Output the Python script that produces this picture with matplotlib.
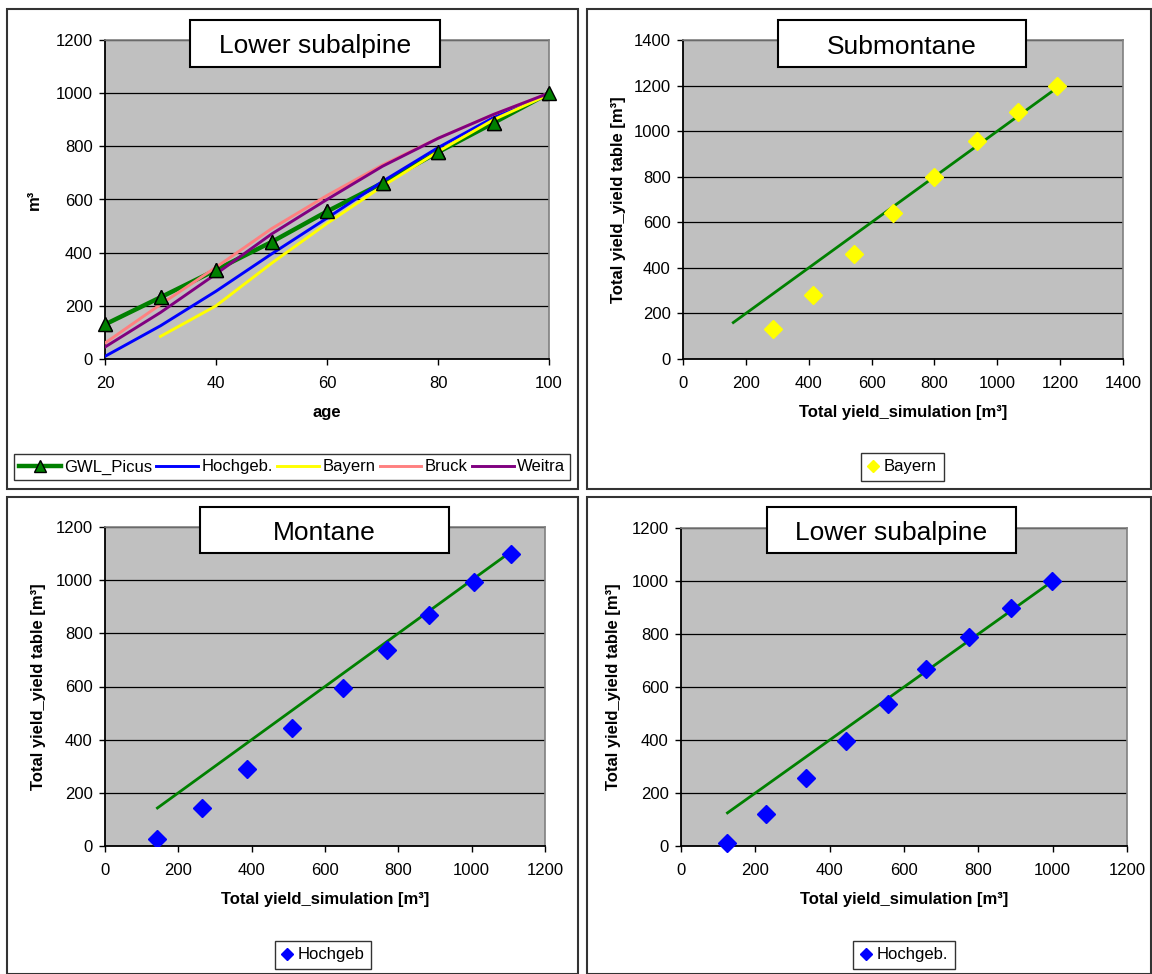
import matplotlib.pyplot as plt
import numpy as np
from matplotlib.patches import Rectangle

plt.rcParams['font.family'] = ['Liberation Sans', 'DejaVu Sans']

W, H = 1152, 974

# top left: yield over age
ages = [20, 30, 40, 50, 60, 70, 80, 90, 100]
gwl_picus = [130, 232, 335, 440, 555, 662, 778, 888, 1000]
hochgeb = [10, 125, 255, 395, 530, 668, 795, 908, 1000]
bayern = [np.nan, 85, 200, 360, 510, 650, 780, 900, 995]
bruck = [60, 205, 345, 490, 615, 730, 830, 920, 1000]
weitra = [45, 175, 320, 470, 600, 725, 830, 920, 1000]

# submontane: simulation vs yield table (Bayern)
sub_sim = [160, 287, 413, 543, 667, 800, 935, 1067, 1190]
sub_table = [np.nan, 130, 283, 460, 640, 800, 955, 1083, 1200]

# montane: simulation vs yield table (Hochgeb)
mon_sim = [143, 265, 388, 510, 648, 768, 883, 1005, 1108]
mon_table = [28, 143, 288, 445, 595, 738, 870, 993, 1100]

# lower subalpine: simulation vs yield table (Hochgeb.)
lsa_sim = [125, 230, 335, 443, 557, 660, 775, 888, 998]
lsa_table = [12, 122, 258, 395, 535, 668, 790, 900, 1000]

GREEN = '#008000'
FS = 12


def px_rect(l, t, r, b):
    # pixel box -> figure fraction [left, bottom, width, height]
    return [l / W, 1 - b / H, (r - l) / W, (b - t) / H]


def style_axes(ax, xlim, xticks, ylim, yticks):
    ax.set_facecolor('#c0c0c0')
    ax.set_xlim(xlim)
    ax.set_ylim(ylim)
    ax.set_xticks(xticks)
    ax.set_yticks(yticks)
    ax.grid(axis='y', color='black', lw=0.9)
    ax.set_axisbelow(True)
    for s in ['top', 'right']:
        ax.spines[s].set_color('#808080')
        ax.spines[s].set_linewidth(1.2)
    for s in ['left', 'bottom']:
        ax.spines[s].set_color('black')
        ax.spines[s].set_linewidth(1.3)
    ax.tick_params(axis='x', direction='out', length=4, width=1, labelsize=FS, pad=8)
    ax.tick_params(axis='y', direction='out', length=4, width=1, labelsize=FS, pad=5)


def title_box(l, t, r, b, text):
    fig.patches.append(Rectangle((l / W, 1 - b / H), (r - l) / W, (b - t) / H,
                                 transform=fig.transFigure, facecolor='white',
                                 edgecolor='black', lw=1.5, zorder=5))
    fig.text((l + r) / 2 / W, 1 - ((t + b) / 2 + 3) / H, text, ha='center', va='center',
             fontsize=19, zorder=6)


def labels(ax, xlabel, ylabel, yx):
    ax.set_xlabel(xlabel, fontsize=FS, fontweight='bold')
    ax.set_ylabel(ylabel, fontsize=FS, fontweight='bold')
    ax.xaxis.set_label_coords(0.5, -0.145)
    ax.yaxis.set_label_coords(yx, 0.5)


def small_legend(ax, cx, cy):
    leg = ax.legend(loc='center', bbox_to_anchor=(cx / W, 1 - cy / H),
                    bbox_transform=fig.transFigure, fontsize=FS, frameon=True, fancybox=False,
                    edgecolor='black', handlelength=0.7, handletextpad=0.3, numpoints=1,
                    markerscale=0.65, borderpad=0.4)
    leg.get_frame().set_linewidth(1)


fig = plt.figure(figsize=(W / 100, H / 100), dpi=100)

# panel frames
for l, t, r, b in [(7, 9, 578, 489), (587, 9, 1151, 489), (7, 497, 578, 974), (587, 497, 1151, 974)]:
    fig.patches.append(Rectangle((l / W, 1 - b / H), (r - l) / W, (b - t) / H,
                                 transform=fig.transFigure, facecolor='none',
                                 edgecolor='#333333', lw=1.5))

# --- top left ---
ax1 = fig.add_axes(px_rect(105, 40, 549, 359))
style_axes(ax1, (20, 100), [20, 40, 60, 80, 100], (0, 1200), range(0, 1201, 200))
ax1.plot(ages, gwl_picus, color=GREEN, lw=3.2, marker='^', ms=10, mfc=GREEN, mec='black',
         mew=1, label='GWL_Picus', zorder=2)
ax1.plot(ages, hochgeb, color='#0000ff', lw=2.1, label='Hochgeb.', zorder=3)
ax1.plot(ages, bayern, color='#ffff00', lw=2.1, label='Bayern', zorder=3)
ax1.plot(ages, bruck, color='#ff8080', lw=2.1, label='Bruck', zorder=3)
ax1.plot(ages, weitra, color='#800080', lw=2.1, label='Weitra', zorder=3)
ax1.plot(ages, gwl_picus, ls='none', marker='^', ms=10, mfc=GREEN, mec='black', mew=1,
         zorder=4, clip_on=False)
ax1.set_xlabel('age', fontsize=FS, fontweight='bold')
ax1.set_ylabel('m³', fontsize=FS, fontweight='bold')
ax1.xaxis.set_label_coords(0.5, -0.145)
ax1.yaxis.set_label_coords(-0.142, 0.5)
leg = ax1.legend(loc='center', bbox_to_anchor=(14 / W, 1 - 483 / H, 556 / W, 32 / H),
                 bbox_transform=fig.transFigure, mode='expand', ncol=5, fontsize=FS,
                 frameon=True, fancybox=False, edgecolor='black', handlelength=2.5,
                 handletextpad=0.2, columnspacing=0.5, numpoints=1, borderaxespad=0,
                 borderpad=0.3, markerscale=0.8)
leg.get_frame().set_linewidth(1)
title_box(190, 20, 440, 67, 'Lower subalpine')

xl = 'Total yield_simulation [m³]'
yl = 'Total yield_yield table [m³]'

# --- top right ---
ax2 = fig.add_axes(px_rect(683, 40, 1123, 359))
style_axes(ax2, (0, 1400), range(0, 1401, 200), (0, 1400), range(0, 1401, 200))
ax2.plot(sub_sim, sub_sim, color=GREEN, lw=2, zorder=2)
ax2.plot(sub_sim, sub_table, ls='none', marker='D', ms=9.5, color='#ffff00', mec='#ffff00',
         label='Bayern', zorder=3)
labels(ax2, xl, yl, -0.13)
small_legend(ax2, 902, 467)
title_box(778, 20, 1026, 67, 'Submontane')

# --- bottom left ---
ax3 = fig.add_axes(px_rect(105, 527, 545, 846))
style_axes(ax3, (0, 1200), range(0, 1201, 200), (0, 1200), range(0, 1201, 200))
ax3.plot(mon_sim, mon_sim, color=GREEN, lw=2, zorder=2)
ax3.plot(mon_sim, mon_table, ls='none', marker='D', ms=9.5, color='#0000ff',
         label='Hochgeb', zorder=3)
labels(ax3, xl, yl, -0.134)
small_legend(ax3, 323, 955)
title_box(200, 507, 449, 553, 'Montane')

# --- bottom right ---
ax4 = fig.add_axes(px_rect(681, 528, 1127, 846))
style_axes(ax4, (0, 1200), range(0, 1201, 200), (0, 1200), range(0, 1201, 200))
ax4.plot(lsa_sim, lsa_sim, color=GREEN, lw=2, zorder=2)
ax4.plot(lsa_sim, lsa_table, ls='none', marker='D', ms=9.5, color='#0000ff',
         label='Hochgeb.', zorder=3, clip_on=False)
labels(ax4, xl, yl, -0.134)
small_legend(ax4, 904, 955)
title_box(767, 507, 1016, 553, 'Lower subalpine')

fig.savefig('out.png', dpi=100)
